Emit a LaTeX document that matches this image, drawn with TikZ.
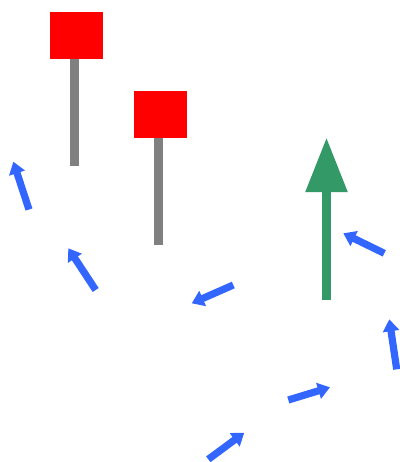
\documentclass[tikz,border=0pt]{standalone}
\usetikzlibrary{arrows.meta}
\definecolor{flagred}{RGB}{255,0,0}
\definecolor{polegray}{RGB}{128,128,128}
\definecolor{arrowblue}{RGB}{51,102,255}
\definecolor{arrowgreen}{RGB}{51,153,102}
\tikzset{
  flag/.style={fill=flagred, draw=none},
  pole/.style={fill=polegray, draw=none},
  bluearrow/.style={draw=arrowblue, line width=5.4pt, line cap=butt,
    -{Triangle[length=9pt,width=12pt,fill=arrowblue]}},
  greenarrow/.style={draw=arrowgreen, line width=6.75pt, line cap=butt,
    -{Triangle[length=41pt,width=30pt,fill=arrowgreen]}}
}
\begin{document}
\begin{tikzpicture}[x=0.75pt,y=-0.75pt]
\useasboundingbox (0,0) rectangle (400,462);
% flags
\fill[pole] (70,59) rectangle (79,166);
\fill[flag] (50,12) rectangle (103,59);
\fill[pole] (154,138) rectangle (163,245);
\fill[flag] (134,91) rectangle (187,138);
% green arrow
\coordinate (g0) at (326.5,300);
\coordinate (g1) at (326.5,137.5);
\draw[greenarrow] (g0) -- (g1);
% blue arrows
\coordinate (a0) at (29,209.5); \coordinate (a1) at (13.3,161.7);
\coordinate (b0) at (95.7,290); \coordinate (b1) at (68.3,248.3);
\coordinate (c0) at (233.3,285); \coordinate (c1) at (191.7,303.3);
\coordinate (d0) at (384.3,253.3); \coordinate (d1) at (343.3,233.3);
\coordinate (e0) at (396.7,369.3); \coordinate (e1) at (389.3,319.3);
\coordinate (f0) at (288.3,400); \coordinate (f1) at (330,387.3);
\coordinate (h0) at (208.3,459.3); \coordinate (h1) at (244.3,432.7);
\foreach \s/\t in {a0/a1,b0/b1,c0/c1,d0/d1,e0/e1,f0/f1,h0/h1}
  \draw[bluearrow] (\s) -- (\t);
\end{tikzpicture}
\end{document}
